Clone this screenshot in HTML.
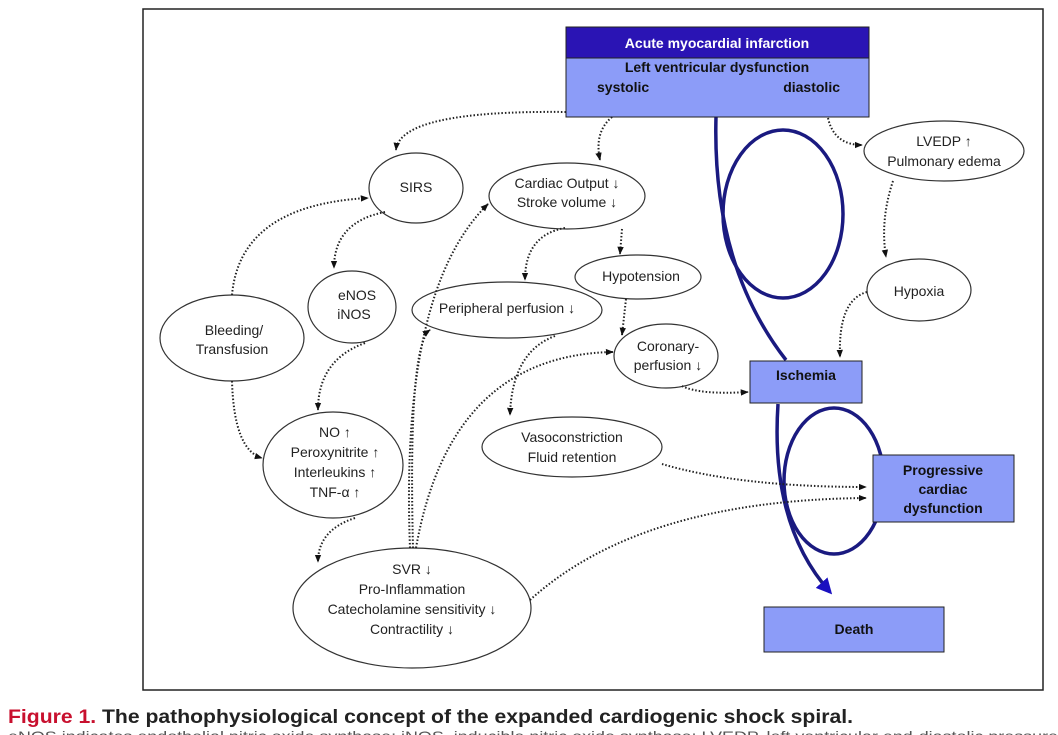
<!DOCTYPE html>
<html><head><meta charset="utf-8"><style>
html,body{margin:0;padding:0;background:#fff;width:1058px;height:735px;overflow:hidden}
svg{display:block}
text{font-family:"Liberation Sans",sans-serif;fill:#222}
</style></head><body>
<svg width="1058" height="735" viewBox="0 0 1058 735" xmlns="http://www.w3.org/2000/svg">
<defs>
<marker id="a" viewBox="0 0 10 10" refX="9" refY="5" markerWidth="8" markerHeight="8" markerUnits="userSpaceOnUse" orient="auto"><path d="M0,1 L10,5 L0,9 z" fill="#111"/></marker>
<marker id="b" viewBox="0 0 10 10" refX="8" refY="5" markerWidth="4.5" markerHeight="4.5" orient="auto"><path d="M0,0 L10,5 L0,10 z" fill="#1a10c0"/></marker>
</defs>
<rect x="143" y="9" width="900" height="681" fill="#fff" stroke="#222" stroke-width="1.5"/>

<g fill="none" stroke="#1a1a80" stroke-width="3.5">
<ellipse cx="783" cy="214" rx="60" ry="84"/>
<path d="M716 117 Q712 265 786 360"/>
<ellipse cx="834" cy="481" rx="50" ry="73"/>
<path d="M778 404 Q770 525 830 592" marker-end="url(#b)"/>
</g>

<rect x="566" y="27" width="303" height="31" fill="#2a14b4" stroke="#222" stroke-width="1"/>
<rect x="566" y="58" width="303" height="59" fill="#8c9cf8" stroke="#222" stroke-width="1"/>
<text x="717" y="48" text-anchor="middle" font-weight="bold" font-size="14" style="fill:#fff">Acute myocardial  infarction</text>
<text x="717" y="72" text-anchor="middle" font-weight="bold" font-size="14" style="fill:#111">Left ventricular dysfunction</text>
<text x="597" y="92" font-weight="bold" font-size="14" style="fill:#111">systolic</text>
<text x="840" y="92" text-anchor="end" font-weight="bold" font-size="14" style="fill:#111">diastolic</text>

<rect x="750" y="361" width="112" height="42" fill="#8c9cf8" stroke="#222"/>
<text x="806" y="380" text-anchor="middle" font-weight="bold" font-size="14" style="fill:#111">Ischemia</text>
<rect x="873" y="455" width="141" height="67" fill="#8c9cf8" stroke="#222"/>
<text x="943" y="475" text-anchor="middle" font-weight="bold" font-size="14" style="fill:#111">Progressive</text>
<text x="943" y="494" text-anchor="middle" font-weight="bold" font-size="14" style="fill:#111">cardiac</text>
<text x="943" y="513" text-anchor="middle" font-weight="bold" font-size="14" style="fill:#111">dysfunction</text>
<rect x="764" y="607" width="180" height="45" fill="#8c9cf8" stroke="#222"/>
<text x="854" y="634" text-anchor="middle" font-weight="bold" font-size="14" style="fill:#111">Death</text>

<g fill="#fff" stroke="#333" stroke-width="1.2">
<ellipse cx="416" cy="188" rx="47" ry="35"/>
<ellipse cx="567" cy="196" rx="78" ry="33"/>
<ellipse cx="944" cy="151" rx="80" ry="30"/>
<ellipse cx="352" cy="307" rx="44" ry="36"/>
<ellipse cx="232" cy="338" rx="72" ry="43"/>
<ellipse cx="507" cy="310" rx="95" ry="28"/>
<ellipse cx="638" cy="277" rx="63" ry="22"/>
<ellipse cx="666" cy="356" rx="52" ry="32"/>
<ellipse cx="919" cy="290" rx="52" ry="31"/>
<ellipse cx="333" cy="465" rx="70" ry="53"/>
<ellipse cx="572" cy="447" rx="90" ry="30"/>
<ellipse cx="412" cy="608" rx="119" ry="60"/>
</g>
<g font-size="14" text-anchor="middle">
<text x="416" y="192">SIRS</text>
<text x="567" y="188">Cardiac Output ↓</text>
<text x="567" y="207">Stroke volume ↓</text>
<text x="944" y="146">LVEDP ↑</text>
<text x="944" y="166">Pulmonary edema</text>
<text x="357" y="300">eNOS</text>
<text x="354" y="319">iNOS</text>
<text x="234" y="335">Bleeding/</text>
<text x="232" y="354">Transfusion</text>
<text x="507" y="313">Peripheral perfusion ↓</text>
<text x="641" y="281">Hypotension</text>
<text x="668" y="351">Coronary-</text>
<text x="668" y="370">perfusion ↓</text>
<text x="919" y="296">Hypoxia</text>
<text x="335" y="437">NO ↑</text>
<text x="335" y="457">Peroxynitrite ↑</text>
<text x="335" y="477">Interleukins ↑</text>
<text x="335" y="497">TNF-α ↑</text>
<text x="572" y="442">Vasoconstriction</text>
<text x="572" y="462">Fluid retention</text>
<text x="412" y="574">SVR ↓</text>
<text x="412" y="594">Pro-Inflammation</text>
<text x="412" y="614">Catecholamine sensitivity ↓</text>
<text x="412" y="634">Contractility ↓</text>
</g>

<g fill="none" stroke="#222" stroke-width="2" stroke-dasharray="1.5 2" marker-end="url(#a)">
<path d="M566 112 Q400 110 396 150"/>
<path d="M612 117 Q594 132 600 160"/>
<path d="M828 118 Q834 145 862 145"/>
<path d="M893 181 Q880 220 886 257"/>
<path d="M867 292 Q838 300 840 357"/>
<path d="M232 295 Q240 205 368 198"/>
<path d="M385 212 Q334 222 334 268"/>
<path d="M365 343 Q318 360 318 410"/>
<path d="M232 381 Q234 450 262 458"/>
<path d="M355 518 Q318 530 318 562"/>
<path d="M410 548 Q400 290 488 204"/>
<path d="M413 548 Q408 345 430 330"/>
<path d="M416 548 Q450 355 613 352"/>
<path d="M565 228 Q525 235 525 280"/>
<path d="M622 229 L620 254"/>
<path d="M626 299 L622 335"/>
<path d="M555 336 Q512 352 510 415"/>
<path d="M682 386 Q700 395 748 392"/>
<path d="M662 464 Q740 487 866 487"/>
<path d="M530 600 Q640 500 866 498"/>
</g>

<text x="8" y="723" font-size="19" font-weight="bold" textLength="845" lengthAdjust="spacingAndGlyphs"><tspan style="fill:#c8102e">Figure 1.</tspan><tspan style="fill:#222"> The pathophysiological concept of the expanded cardiogenic shock spiral.</tspan></text>
<text x="8" y="741" font-size="14" style="fill:#555" textLength="1050" lengthAdjust="spacingAndGlyphs">eNOS indicates endothelial nitric oxide synthase; iNOS, inducible nitric oxide synthase; LVEDP, left ventricular end-diastolic pressure</text>
</svg>
</body></html>
